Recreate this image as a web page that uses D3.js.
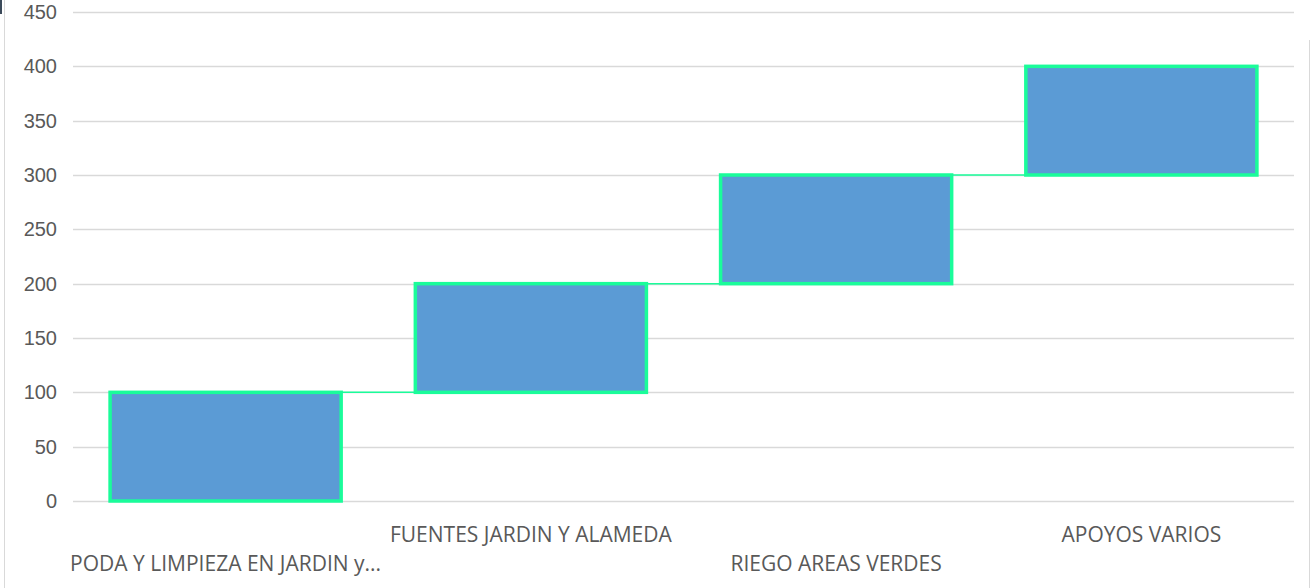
<!DOCTYPE html>
<html><head><meta charset="utf-8">
<script src="https://cdn.jsdelivr.net/npm/d3@7"></script>
<style>
html,body{margin:0;padding:0;background:#fff;}
svg{display:block;font-family:"Open Sans","Liberation Sans",sans-serif;}
</style></head>
<body>
<svg id="chart" width="1313" height="588"></svg>
<script>
const categories = ["PODA Y LIMPIEZA EN JARDIN y...", "FUENTES JARDIN Y ALAMEDA", "RIEGO AREAS VERDES", "APOYOS VARIOS"];
const baseValues = [0, 100, 200, 300];
const stepValues = [100, 100, 100, 100];
const yTicks = [0, 50, 100, 150, 200, 250, 300, 350, 400, 450];

const svg = d3.select("#chart");
const W = 1313, H = 588;
const m = {left: 73, right: 19, top: 12, bottom: 87};

// frame
svg.append("line").attr("x1",4.5).attr("x2",4.5).attr("y1",0).attr("y2",H).attr("stroke","#d9d9d9").attr("stroke-width",1);
svg.append("line").attr("x1",1309.5).attr("x2",1309.5).attr("y1",40).attr("y2",H).attr("stroke","#d9d9d9").attr("stroke-width",1);
svg.append("rect").attr("x",0).attr("y",0).attr("width",2).attr("height",14).attr("fill","#3b4a5a");

const x = d3.scaleBand().domain(categories).range([m.left, W - m.right]).paddingInner(0.243).paddingOuter(0.1215);
const y = d3.scaleLinear().domain([0, 450]).range([H - m.bottom, m.top]);

// gridlines
svg.append("g").selectAll("line").data(yTicks).join("line")
  .attr("x1", m.left).attr("x2", W - m.right)
  .attr("y1", d => Math.round(y(d)) + 0.5).attr("y2", d => Math.round(y(d)) + 0.5)
  .attr("stroke", "#d9d9d9").attr("stroke-width", 1.5);

// y axis labels
const yAxis = d3.axisLeft(y).tickValues(yTicks).tickSize(0).tickPadding(16);
const gy = svg.append("g").attr("transform", `translate(${m.left},0)`).call(yAxis);
gy.select(".domain").remove();
gy.selectAll("text").attr("fill", "#595959").style("font-size", "20px").style("font-family", '"Liberation Sans",Arial,sans-serif');

// connectors
const conn = d3.range(categories.length - 1);
svg.append("g").selectAll("line").data(conn).join("line")
  .attr("x1", i => x(categories[i]) + x.bandwidth())
  .attr("x2", i => x(categories[i+1]))
  .attr("y1", i => y(baseValues[i] + stepValues[i]))
  .attr("y2", i => y(baseValues[i] + stepValues[i]))
  .attr("stroke", "#1afc9a").attr("stroke-width", 1.5);

// bars
svg.append("g").selectAll("rect").data(categories).join("rect")
  .attr("x", d => x(d))
  .attr("width", x.bandwidth())
  .attr("y", (d,i) => y(baseValues[i] + stepValues[i]))
  .attr("height", (d,i) => y(baseValues[i]) - y(baseValues[i] + stepValues[i]))
  .attr("fill", "#5b9bd5")
  .attr("stroke", "#1afc9a").attr("stroke-width", 3.5);

// x labels (staggered)
svg.append("g").selectAll("text").data(categories).join("text")
  .attr("x", d => x(d) + x.bandwidth()/2)
  .attr("y", (d,i) => i % 2 === 1 ? 542 : 571)
  .attr("text-anchor", "middle")
  .attr("fill", "#595959")
  .style("font-size", "21px")
  .text(d => d);
</script>
</body></html>
